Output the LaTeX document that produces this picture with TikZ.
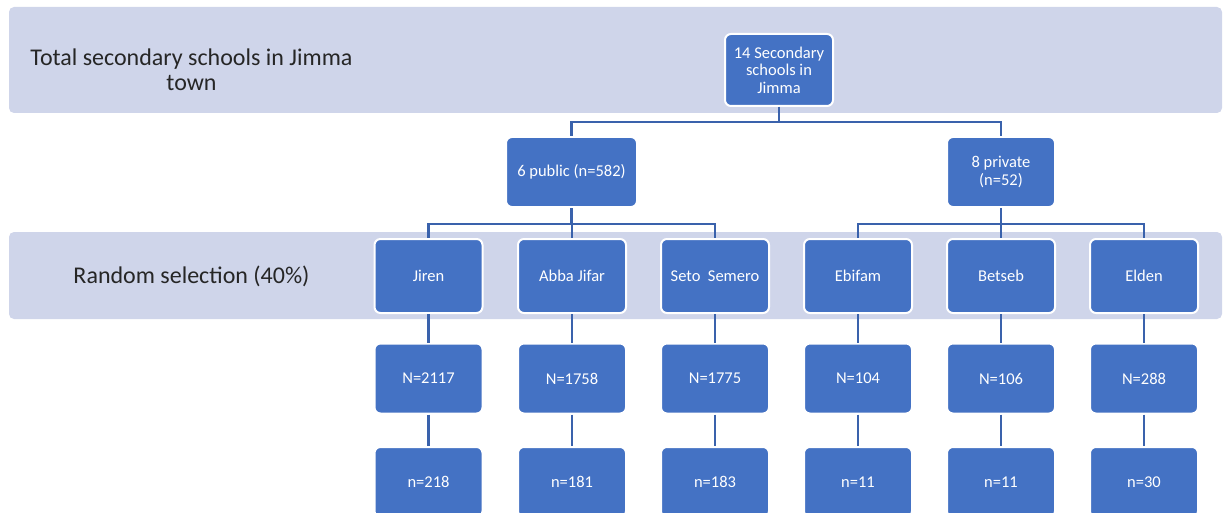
\documentclass[tikz,border=0pt]{standalone}
\usepackage{fontspec}
\setmainfont{Carlito}
\usetikzlibrary{positioning}
\definecolor{boxblue}{HTML}{4472C4}
\definecolor{bandgrey}{HTML}{CFD5EA}
\definecolor{lineblue}{HTML}{3A62AC}
\tikzset{
  unit/.style={rectangle, rounded corners=6pt, fill=boxblue, draw=white,
    line width=2pt, text=white, align=center, inner sep=2pt,
    font=\fontsize{16.5}{17.5}\selectfont,
    minimum width=108pt, minimum height=70pt},
  band/.style={fill=bandgrey, rounded corners=5pt},
  link/.style={draw=lineblue, line width=2.2pt},
  tag/.style={align=center, text=black!85, font=\fontsize{24}{25}\selectfont}
}

\begin{document}
\begin{tikzpicture}[x=1pt,y=-1pt]

\clip (0,0) rectangle (1225,513);
\useasboundingbox (0,0) rectangle (1225,513);

%% shaded rows
\fill[band] (9,7) rectangle (1222,113);
\fill[band] (9,232) rectangle (1222,319);

\node[tag] (total) at (191.5,70) {Total secondary schools in Jimma\\town};
\node[tag, anchor=base] (random) at (191.5,283) {Random selection (40\%)};

%% upper levels
\node[unit, minimum height=72pt] (all) at (779,70) {14 Secondary\\schools in\\Jimma};
\node[unit, minimum width=131pt] (pub) at (571.5,172) {6 public (n=582)};
\node[unit] (priv) at (1001,172) {8 private\\(n=52)};

\draw[link] (all.south) -- ++(0,15) -| (pub.north);
\draw[link] (all.south) -- ++(0,15) -| (priv.north);

%% schools, population, sample
\foreach \i/\x/\school/\pop/\sample in {1/428.5/Jiren/2117/218,
    2/572/Abba Jifar/1758/181, 3/715/Seto~ Semero/1775/183,
    4/858/Ebifam/104/11, 5/1001/Betseb/106/11, 6/1144/Elden/288/30}
{
  \node[unit, minimum height=74pt] (s\i) at (\x,276) {\school};
  \node[unit] (N\i) at (\x,378.5) {N=\pop};
  \node[unit] (n\i) at (\x,482) {n=\sample};
  \draw[link] (s\i) -- (N\i);
  \draw[link] (N\i) -- (n\i);
}

\draw[link] (pub.south) -- ++(0,16) -| (s1.north);
\draw[link] (pub.south) -- ++(0,16) -| (s2.north);
\draw[link] (pub.south) -- ++(0,16) -| (s3.north);
\draw[link] (priv.south) -- ++(0,16) -| (s4.north);
\draw[link] (priv.south) -- ++(0,16) -| (s5.north);
\draw[link] (priv.south) -- ++(0,16) -| (s6.north);

\end{tikzpicture}
\end{document}
